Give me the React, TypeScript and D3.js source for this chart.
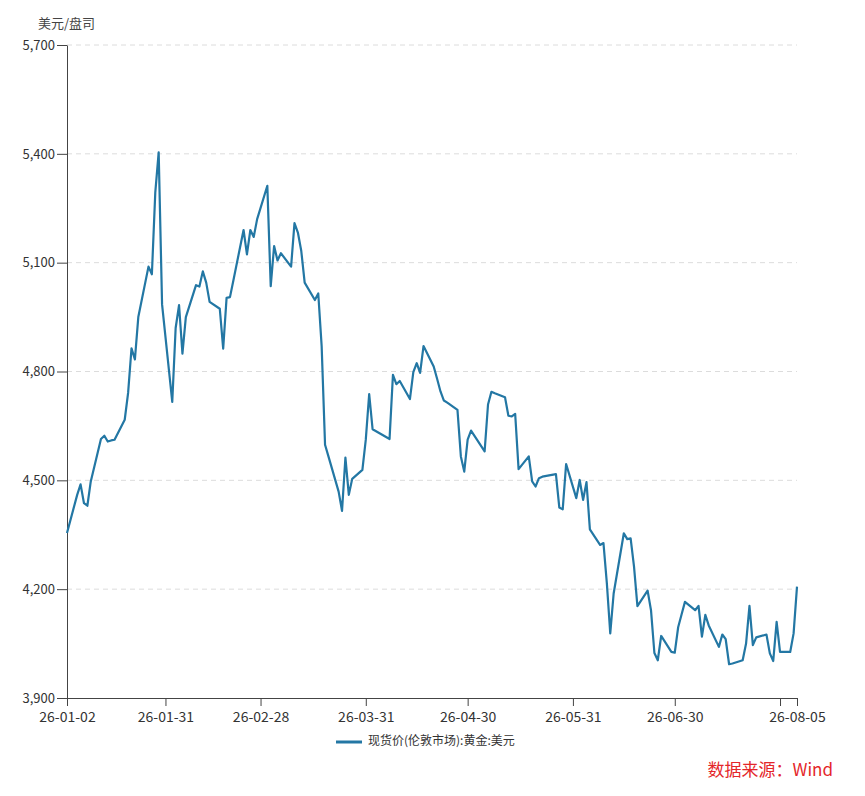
import React, { useEffect, useRef } from 'react';
import * as d3 from 'd3';

// 现货价(伦敦市场):黄金:美元, trading days of 2026
const tradeDates = [
  '2026-01-02', '2026-01-05', '2026-01-06', '2026-01-07', '2026-01-08', '2026-01-09',
  '2026-01-12', '2026-01-13', '2026-01-14', '2026-01-15', '2026-01-16',
  '2026-01-19', '2026-01-20', '2026-01-21', '2026-01-22', '2026-01-23',
  '2026-01-26', '2026-01-27', '2026-01-28', '2026-01-29', '2026-01-30',
  '2026-02-02', '2026-02-03', '2026-02-04', '2026-02-05', '2026-02-06',
  '2026-02-09', '2026-02-10', '2026-02-11', '2026-02-12', '2026-02-13',
  '2026-02-16', '2026-02-17', '2026-02-18', '2026-02-19', '2026-02-20',
  '2026-02-23', '2026-02-24', '2026-02-25', '2026-02-26', '2026-02-27',
  '2026-03-02', '2026-03-03', '2026-03-04', '2026-03-05', '2026-03-06',
  '2026-03-09', '2026-03-10', '2026-03-11', '2026-03-12', '2026-03-13',
  '2026-03-16', '2026-03-17', '2026-03-18', '2026-03-19', '2026-03-20',
  '2026-03-23', '2026-03-24', '2026-03-25', '2026-03-26', '2026-03-27',
  '2026-03-30', '2026-03-31', '2026-04-01', '2026-04-02',
  '2026-04-07', '2026-04-08', '2026-04-09', '2026-04-10',
  '2026-04-13', '2026-04-14', '2026-04-15', '2026-04-16', '2026-04-17',
  '2026-04-20', '2026-04-21', '2026-04-22', '2026-04-23', '2026-04-24',
  '2026-04-27', '2026-04-28', '2026-04-29', '2026-04-30', '2026-05-01',
  '2026-05-05', '2026-05-06', '2026-05-07', '2026-05-08',
  '2026-05-11', '2026-05-12', '2026-05-13', '2026-05-14', '2026-05-15',
  '2026-05-18', '2026-05-19', '2026-05-20', '2026-05-21', '2026-05-22',
  '2026-05-26', '2026-05-27', '2026-05-28', '2026-05-29',
  '2026-06-01', '2026-06-02', '2026-06-03', '2026-06-04', '2026-06-05',
  '2026-06-08', '2026-06-09', '2026-06-10', '2026-06-11', '2026-06-12',
  '2026-06-15', '2026-06-16', '2026-06-17', '2026-06-18', '2026-06-19',
  '2026-06-22', '2026-06-23', '2026-06-24', '2026-06-25', '2026-06-26',
  '2026-06-29', '2026-06-30', '2026-07-01', '2026-07-02', '2026-07-03',
  '2026-07-06', '2026-07-07', '2026-07-08', '2026-07-09', '2026-07-10',
  '2026-07-13', '2026-07-14', '2026-07-15', '2026-07-16', '2026-07-17',
  '2026-07-20', '2026-07-21', '2026-07-22', '2026-07-23', '2026-07-24',
  '2026-07-27', '2026-07-28', '2026-07-29', '2026-07-30', '2026-07-31',
  '2026-08-03', '2026-08-04', '2026-08-05'
];

const goldPrices = [
  4355, 4460, 4489, 4437, 4430, 4497,
  4614, 4623, 4607, 4610, 4612,
  4667, 4741, 4864, 4833, 4950,
  5089, 5068, 5293, 5404, 4985,
  4716, 4920, 4983, 4849, 4950,
  5038, 5034, 5076, 5045, 4992,
  4973, 4863, 5003, 5005, 5051,
  5190, 5123, 5190, 5171, 5220,
  5312, 5035, 5146, 5106, 5126,
  5089, 5209, 5183, 5132, 5045,
  4997, 5015, 4870, 4598, 4566,
  4469, 4416, 4563, 4460, 4504,
  4529, 4612, 4738, 4641,
  4614, 4791, 4765, 4774,
  4724, 4798, 4823, 4796, 4870,
  4814, 4780, 4745, 4720, 4714,
  4694, 4566, 4524, 4612, 4637,
  4580, 4709, 4744, 4740,
  4729, 4678, 4676, 4683, 4531,
  4566, 4497, 4483, 4506, 4510,
  4517, 4425, 4420, 4545,
  4451, 4501, 4446, 4495, 4365,
  4322, 4327, 4216, 4078, 4188,
  4354, 4338, 4340, 4262, 4153,
  4196, 4142, 4024, 4004, 4071,
  4027, 4025, 4095, 4130, 4165,
  4142, 4154, 4069, 4129, 4100,
  4041, 4075, 4062, 3993, 3995,
  4004, 4050, 4154, 4046, 4067,
  4075, 4023, 4002, 4110, 4027,
  4027, 4078, 4207
];

const yTicks = [3900, 4200, 4500, 4800, 5100, 5400, 5700];
const xTickDates = [
  '2026-01-02', '2026-01-31', '2026-02-28', '2026-03-31', '2026-04-30',
  '2026-05-31', '2026-06-30', '2026-07-31', '2026-08-05'
];
const hiddenTickLabels = ['2026-07-31'];

const seriesName = '现货价(伦敦市场):黄金:美元';
const unitLabel = '美元/盘司';
const sourceLabel = '数据来源：Wind';

const FONT = '"Noto Sans CJK SC", "Noto Sans", sans-serif';
const LINE_COLOR = '#2377a4';

export default function App() {
  const svgRef = useRef<SVGSVGElement>(null);

  useEffect(() => {
    if (!svgRef.current) return;
    const svg = d3.select(svgRef.current);
    svg.selectAll('*').remove();

    const parse = d3.timeParse('%Y-%m-%d');
    const data = tradeDates.map((d, i) => ({ date: parse(d) as Date, value: goldPrices[i] }));

    const left = 67, right = 797, top = 45, bottom = 698;

    const x = d3.scaleTime()
      .domain([parse(tradeDates[0]) as Date, parse(tradeDates[tradeDates.length - 1]) as Date])
      .range([left, right]);
    const y = d3.scaleLinear().domain([3900, 5700]).range([bottom, top]);

    // gridlines
    svg.append('g')
      .selectAll('line')
      .data(yTicks.slice(1))
      .enter()
      .append('line')
      .attr('x1', left)
      .attr('x2', right)
      .attr('y1', d => y(d))
      .attr('y2', d => y(d))
      .attr('stroke', '#dcdcdc')
      .attr('stroke-dasharray', '5,4');

    // y axis
    const yAxis = svg.append('g')
      .attr('transform', `translate(${left},0)`)
      .call(d3.axisLeft(y).tickValues(yTicks).tickFormat(d3.format(',')).tickSize(10).tickPadding(2).tickSizeOuter(0));
    yAxis.select('.domain').attr('stroke', '#444');
    yAxis.selectAll('.tick line').attr('stroke', '#444');
    yAxis.selectAll('text')
      .attr('font-family', FONT)
      .attr('font-size', 13)
      .attr('fill', '#333');

    // x axis
    const tickDates = xTickDates.map(d => parse(d) as Date);
    const xAxis = svg.append('g')
      .attr('transform', `translate(0,${bottom})`)
      .call(
        d3.axisBottom(x)
          .tickValues(tickDates)
          .tickSizeOuter(0)
          .tickSize(8)
          .tickPadding(6)
          .tickFormat((d, i) => (hiddenTickLabels.includes(xTickDates[i]) ? '' : d3.timeFormat('%y-%m-%d')(d as Date)))
      );
    xAxis.select('.domain').attr('stroke', '#444');
    xAxis.selectAll('.tick line').attr('stroke', '#444');
    xAxis.selectAll('text')
      .attr('font-family', FONT)
      .attr('font-size', 14)
      .attr('fill', '#333');

    // price line
    const line = d3.line<{ date: Date; value: number }>()
      .x(d => x(d.date))
      .y(d => y(d.value));

    svg.append('path')
      .datum(data)
      .attr('fill', 'none')
      .attr('stroke', LINE_COLOR)
      .attr('stroke-width', 2.2)
      .attr('stroke-linejoin', 'round')
      .attr('d', line);

    // unit label
    svg.append('text')
      .attr('x', 38)
      .attr('y', 24)
      .attr('dominant-baseline', 'middle')
      .attr('font-family', FONT)
      .attr('font-size', 13)
      .attr('fill', '#444')
      .text(unitLabel);

    // legend
    svg.append('line')
      .attr('x1', 336)
      .attr('x2', 362)
      .attr('y1', 742)
      .attr('y2', 742)
      .attr('stroke', LINE_COLOR)
      .attr('stroke-width', 3);
    svg.append('text')
      .attr('x', 368)
      .attr('y', 742)
      .attr('dominant-baseline', 'middle')
      .attr('font-family', FONT)
      .attr('font-size', 12)
      .attr('fill', '#333')
      .text(seriesName);

    // source
    svg.append('text')
      .attr('x', 833)
      .attr('y', 771)
      .attr('text-anchor', 'end')
      .attr('dominant-baseline', 'middle')
      .attr('font-family', FONT)
      .attr('font-size', 17)
      .attr('fill', '#e4262a')
      .text(sourceLabel);
  }, []);

  return (
    <div style={{ position: 'absolute', left: 0, top: 0, width: 865, height: 796, background: '#fff' }}>
      <svg ref={svgRef} width={865} height={796}></svg>
    </div>
  );
}
